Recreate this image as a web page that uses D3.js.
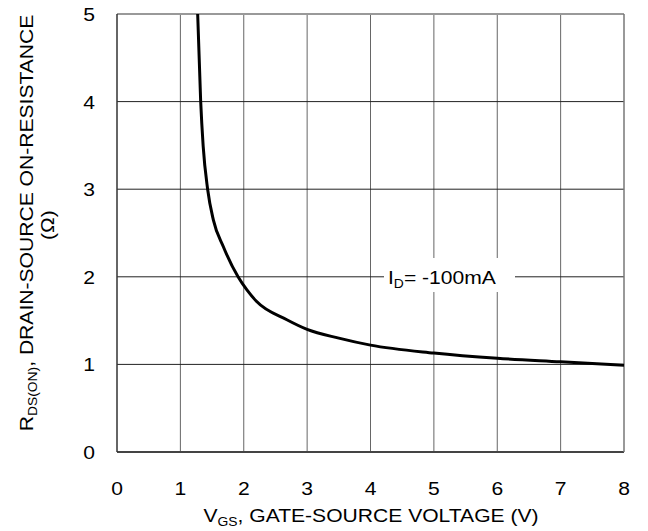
<!DOCTYPE html>
<html><head><meta charset="utf-8">
<script src="https://cdn.jsdelivr.net/npm/d3@7"></script>
<style>body{margin:0;background:#fff}svg{display:block;font-family:"Liberation Sans",Arial,sans-serif}</style>
</head><body><svg id="c" width="648" height="531"></svg>
<script>
const vgs = [1.273, 1.32, 1.36, 1.43, 1.52, 1.68, 1.91, 2.05, 2.20, 2.68, 3.0, 3.5, 4.0, 5.0, 6.0, 7.0, 8.0];
const rds = [5.0, 4.01, 3.49, 3.0, 2.65, 2.34, 2.0, 1.85, 1.72, 1.51, 1.40, 1.30, 1.22, 1.13, 1.07, 1.03, 0.99];
const xTicks = [0,1,2,3,4,5,6,7,8];
const yTicks = [0,1,2,3,4,5];

const svg = d3.select("#c");
const L=117,R=624,T=14,B=452;
const FS=19, SX=1.11;
const x = d3.scaleLinear().domain([0,8]).range([L,R]);
const y = d3.scaleLinear().domain([0,5]).range([B,T]);

// grid
svg.append("g").selectAll("line").data(xTicks.slice(1,-1)).join("line")
  .attr("x1",d=>x(d)).attr("x2",d=>x(d)).attr("y1",T).attr("y2",B)
  .attr("stroke","#666").attr("stroke-width",1);
svg.append("g").selectAll("line").data(yTicks.slice(1,-1)).join("line")
  .attr("x1",L).attr("x2",R).attr("y1",d=>y(d)).attr("y2",d=>y(d))
  .attr("stroke","#222").attr("stroke-width",1);

// label background
const lab = svg.append("g");
lab.append("rect").attr("x",384).attr("y",258).attr("width",131).attr("height",34).attr("fill","#fff");
const lt = lab.append("text").attr("transform",`translate(388,${y(2)+7}) scale(${SX},1)`).attr("font-size",FS).attr("fill","#000");
lt.append("tspan").text("I");
lt.append("tspan").attr("font-size",12.5).attr("dy",4).text("D");
lt.append("tspan").attr("dy",-4).text("= -100mA");

// frame
svg.append("line").attr("x1",L).attr("x2",R).attr("y1",T).attr("y2",T).attr("stroke","#999").attr("stroke-width",2);
svg.append("line").attr("x1",L).attr("x2",R).attr("y1",B).attr("y2",B).attr("stroke","#444").attr("stroke-width",2);
svg.append("line").attr("x1",L).attr("x2",L).attr("y1",T).attr("y2",B).attr("stroke","#333").attr("stroke-width",1.5);
svg.append("line").attr("x1",R).attr("x2",R).attr("y1",T).attr("y2",B).attr("stroke","#777").attr("stroke-width",1.5);

// curve
const pts = vgs.map((v,i)=>[v,rds[i]]);
svg.append("path").datum(pts)
  .attr("d", d3.line().x(d=>x(d[0])).y(d=>y(d[1])).curve(d3.curveMonotoneX))
  .attr("fill","none").attr("stroke","#000").attr("stroke-width",3);

// tick labels
svg.append("g").selectAll("text").data(xTicks).join("text")
  .attr("transform",d=>`translate(${x(d)},495) scale(${SX},1)`).attr("text-anchor","middle").attr("font-size",FS).text(d=>d);
svg.append("g").selectAll("text").data(yTicks).join("text")
  .attr("transform",d=>`translate(95,${y(d)+7}) scale(${SX},1)`).attr("text-anchor","end").attr("font-size",FS).text(d=>d);

// x title
const xt = svg.append("text").attr("transform",`translate(371,522) scale(${SX},1)`).attr("text-anchor","middle").attr("font-size",FS);
xt.append("tspan").text("V");
xt.append("tspan").attr("font-size",12.5).attr("dy",4).text("GS");
xt.append("tspan").attr("dy",-4).text(", GATE-SOURCE VOLTAGE (V)");

// y title
const yt = svg.append("text").attr("transform",`translate(33,223) rotate(-90) scale(${SX},1)`).attr("text-anchor","middle").attr("font-size",FS);
yt.append("tspan").text("R");
yt.append("tspan").attr("font-size",12.5).attr("dy",4).text("DS(ON)");
yt.append("tspan").attr("dy",-4).text(", DRAIN-SOURCE ON-RESISTANCE");
svg.append("text").attr("transform",`translate(54,225) rotate(-90) scale(${SX},1)`).attr("text-anchor","middle").attr("font-size",FS).text("(Ω)");
</script></body></html>
